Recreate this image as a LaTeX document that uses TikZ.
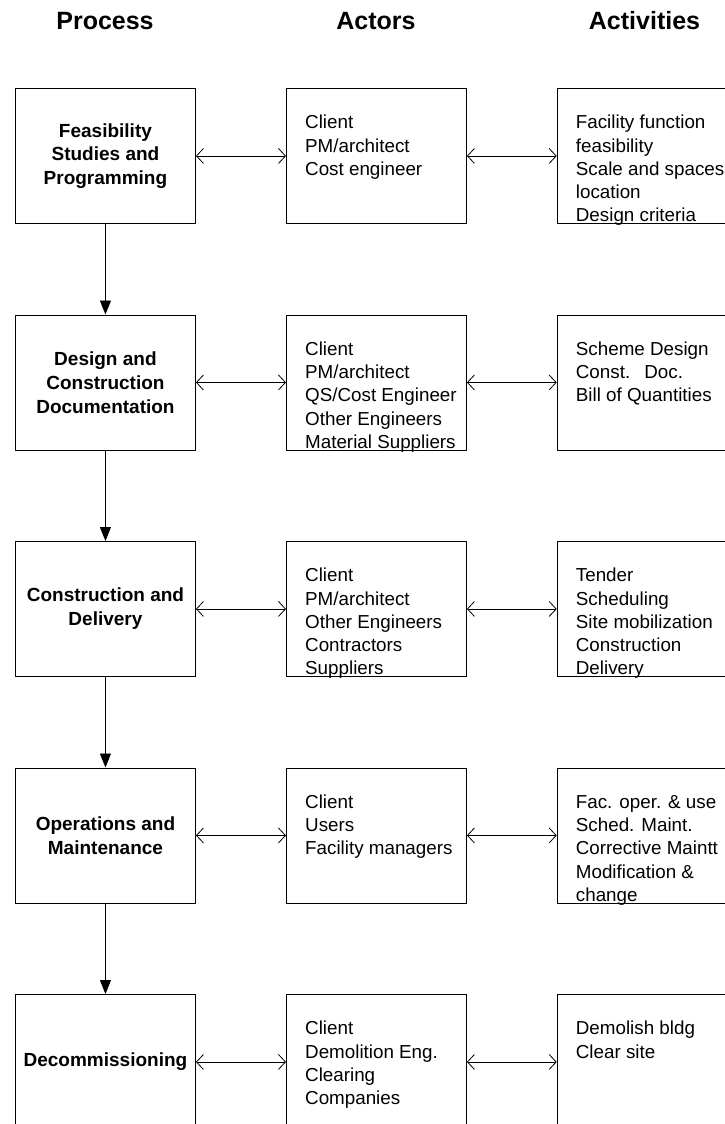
\documentclass[tikz,border=0pt]{standalone}
\usepackage{fontspec}
\setmainfont{Liberation Sans}
\usetikzlibrary{arrows.meta,calc}
\begin{document}
\begin{tikzpicture}[x=1pt,y=-1pt,
  box/.style={draw, line width=0.9pt, minimum width=180pt, minimum height=135pt, inner sep=0pt, anchor=north west},
  proc/.style={box, font=\fontsize{19}{23.8}\selectfont\bfseries, align=center},
  txt/.style={anchor=north west, inner sep=0pt, align=left, font=\fontsize{18.8}{23.3}\selectfont},
  head/.style={anchor=base, inner sep=0pt, font=\fontsize{25}{30}\selectfont\bfseries},
  dbl/.style={line width=0.8pt, {Straight Barb[length=7pt,width=15pt]}-{Straight Barb[length=7pt,width=15pt]}},
  down/.style={line width=0.9pt, -{Triangle[length=14pt,width=11pt]}}]
\useasboundingbox (0,0) rectangle (725,1124);
\clip (0,0) rectangle (725,1124);
\def\fs{\rule{0pt}{15pt}}
% headings
\node[head] (h1) at (105,30) {Process};
\node[head] (h2) at (376,30) {Actors};
\node[head] (h3) at (644.5,30) {Activities};
% row 1
\node[proc] (p1) at (15,88) {Feasibility\\Studies and\\Programming};
\node[box] (a1) at (286,88) {};
\node[box] (c1) at (556.7,88) {};
\node[txt] (ta1) at ($(a1.north west)+(19,25.5)$) {\fs Client\\PM/architect\\Cost engineer};
\node[txt] (tc1) at ($(c1.north west)+(19,25.5)$) {\fs Facility function\\feasibility\\Scale and spaces\\location\\Design criteria};
% row 2
\node[proc] (p2) at (15,314.5) {Design and\\Construction\\Documentation};
\node[box] (a2) at (286,314.5) {};
\node[box] (c2) at (556.7,314.5) {};
\node[txt] (ta2) at ($(a2.north west)+(19,25.5)$) {\fs Client\\PM/architect\\QS/Cost Engineer\\Other Engineers\\Material Suppliers};
\node[txt] (tc2) at ($(c2.north west)+(19,25.5)$) {\fs Scheme Design\\Const.\hspace{0.75em}Doc.\\Bill of Quantities};
% row 3
\node[proc] (p3) at (15,541) {Construction and\\Delivery};
\node[box] (a3) at (286,541) {};
\node[box] (c3) at (556.7,541) {};
\node[txt] (ta3) at ($(a3.north west)+(19,25.5)$) {\fs Client\\PM/architect\\Other Engineers\\Contractors\\Suppliers};
\node[txt] (tc3) at ($(c3.north west)+(19,25.5)$) {\fs Tender\\Scheduling\\Site mobilization\\Construction\\Delivery};
% row 4
\node[proc] (p4) at (15,767.5) {Operations and\\Maintenance};
\node[box] (a4) at (286,767.5) {};
\node[box] (c4) at (556.7,767.5) {};
\node[txt] (ta4) at ($(a4.north west)+(19,25.5)$) {\fs Client\\Users\\Facility managers};
\node[txt] (tc4) at ($(c4.north west)+(19,25.5)$) {\fs Fac. oper. \& use\\Sched. Maint.\\Corrective Maintt\\Modification \&\\change};
% row 5
\node[proc] (p5) at (15,994) {Decommissioning};
\node[box] (a5) at (286,994) {};
\node[box] (c5) at (556.7,994) {};
\node[txt] (ta5) at ($(a5.north west)+(19,25.5)$) {\fs Client\\Demolition Eng.\\Clearing\\Companies};
\node[txt] (tc5) at ($(c5.north west)+(19,25.5)$) {\fs Demolish bldg\\Clear site};
% connectors
\foreach \i in {1,...,5}{
  \draw[dbl] (p\i.east) -- (a\i.west);
  \draw[dbl] (a\i.east) -- (c\i.west);
}
\foreach \i/\j in {1/2,2/3,3/4,4/5}{
  \draw[down] (p\i.south) -- (p\j.north);
}
\end{tikzpicture}
\end{document}
